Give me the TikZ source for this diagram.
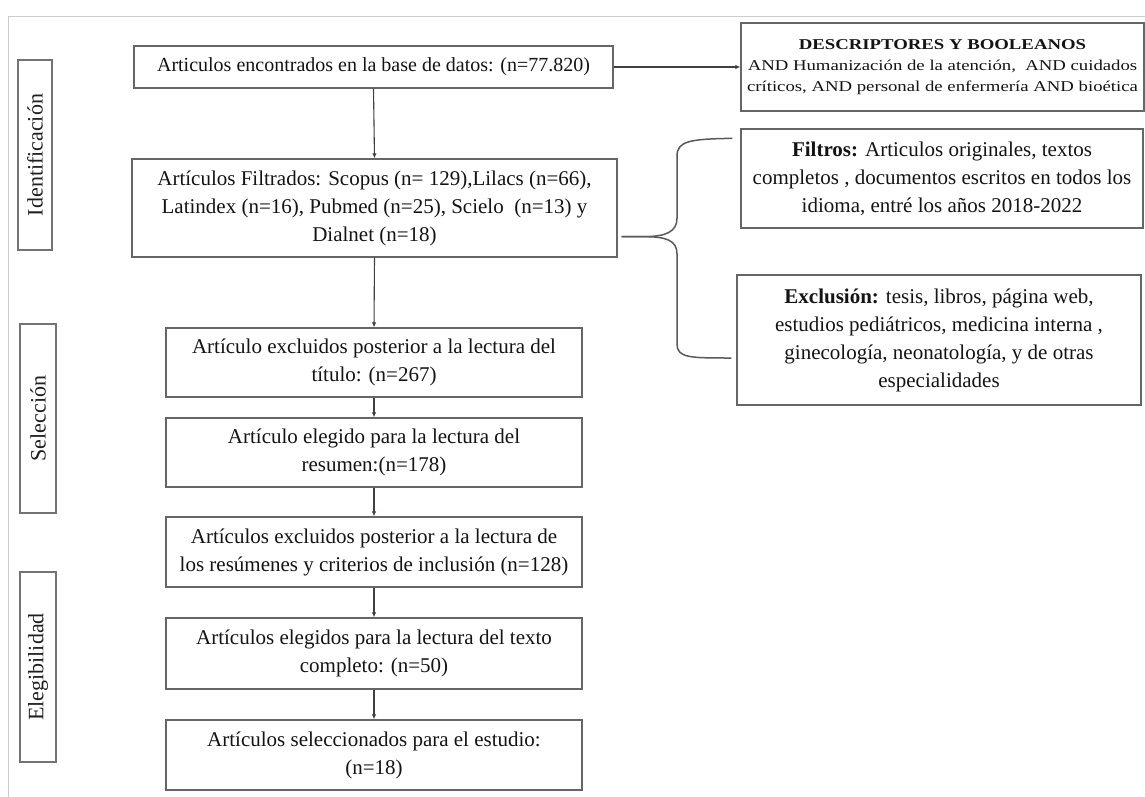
\documentclass[tikz,border=0pt]{standalone}
\usepackage{fontspec}
\setmainfont{Liberation Serif}
\newfontfamily\descfont[FakeStretch=1.25]{Liberation Serif}
\usetikzlibrary{arrows.meta,calc}
\begin{document}
\begin{tikzpicture}[x=1pt,y=-1pt,
  box/.style={draw=black!60, line width=1.3pt, fill=white, align=center, text=black!92, inner sep=0pt, font=\fontsize{21}{28}\selectfont},
  lab/.style={draw=black!55, line width=1.3pt, rotate=90, text=black!88, inner sep=0pt, font=\fontsize{22}{26}\selectfont},
  arr/.style={draw=black!75, line width=1.1pt, -{Latex[length=5pt,width=4.5pt]}},
  bracestyle/.style={draw=black!65, line width=1.5pt}
]
\useasboundingbox (0,0) rectangle (1145,797);
\fill[white] (0,0) rectangle (1145,797);
\draw[black!20, line width=1pt] (8,797) -- (8,17) -- (1145,17);

% phase labels
\node[lab, minimum width=190pt, minimum height=34pt] (l1) at (35,155) {Identificación};
\node[lab, minimum width=189pt, minimum height=36pt] (l2) at (38,418.5) {Selección};
\node[lab, minimum width=190pt, minimum height=36pt] (l3) at (38,667) {Elegibilidad};

% main column
\node[box, minimum width=479pt, minimum height=42pt, font=\fontsize{20}{27}\selectfont] (b1) at (373.5,67)
  {Articulos encontrados en la base de datos: (n=77.820)};
\node[box, minimum width=485pt, minimum height=98pt] (b2) at (374.5,208)
  {Artículos Filtrados: Scopus (n= 129),Lilacs (n=66),\\ Latindex (n=16), Pubmed (n=25), Scielo\ \ (n=13) y\\ Dialnet (n=18)};
\node[box, minimum width=416pt, minimum height=69pt] (b3) at (374,362.5)
  {Artículo excluidos posterior a la lectura del\\ título: (n=267)};
\node[box, minimum width=416pt, minimum height=69pt] (b4) at (374,452.5)
  {Artículo elegido para la lectura del\\ resumen:(n=178)};
\node[box, minimum width=416pt, minimum height=70pt] (b5) at (374,552)
  {Artículos excluidos posterior a la lectura de\\ los resúmenes y criterios de inclusión (n=128)};
\node[box, minimum width=416pt, minimum height=71pt] (b6) at (374,653.5)
  {Artículos elegidos para la lectura del texto\\ completo: (n=50)};
\node[box, minimum width=416pt, minimum height=70pt] (b7) at (374,755)
  {Artículos seleccionados para el estudio:\\ (n=18)};

% right column
\node[box, minimum width=403pt, minimum height=88pt, font=\descfont\fontsize{15}{21}\selectfont] (desc) at (942.5,67)
  {\textbf{DESCRIPTORES Y BOOLEANOS}\\ AND Humanización de la atención,\ \ AND cuidados\\ críticos, AND personal de enfermería AND bioética};
\node[box, minimum width=402pt, minimum height=99pt] (filt) at (942,178.5)
  {\textbf{Filtros:} Articulos originales, textos\\ completos , documentos escritos en todos los\\ idioma, entré los años 2018-2022};
\node[box, minimum width=404pt, minimum height=130pt] (excl) at (939,340)
  {\textbf{Exclusión:} tesis, libros, página web,\\ estudios pediátricos, medicina interna ,\\ ginecología, neonatología, y de otras\\ especialidades};

% connectors
\draw[arr] (b1.east) -- (desc.west);
\draw[arr] (b1.south) -- (b2.north);
\draw[arr] (b2.south) -- (b3.north);
\draw[arr] (b3.south) -- (b4.north);
\draw[arr] (b4.south) -- (b5.north);
\draw[arr] (b5.south) -- (b6.north);
\draw[arr] (b6.south) -- (b7.north);

% brace
\coordinate (tip) at ($(b2.south east)+(4,-21)$);
\coordinate (bendA) at (677,156);
\coordinate (endA) at ($(filt.north west)+(-8,10)$);
\coordinate (endB) at ($(excl.west)+(-5,18)$);
\draw[bracestyle] (tip) -- ++(22,0)
  .. controls ++(22,0) and (677,232) .. (677,218)
  -- (bendA) .. controls (677,141) and (690,139) .. (endA);
\draw[bracestyle] (tip) -- ++(22,0)
  .. controls ++(22,0) and (677,240) .. (677,254)
  -- (677,344) .. controls (677,358) and (690,358) .. (endB);
\end{tikzpicture}
\end{document}
